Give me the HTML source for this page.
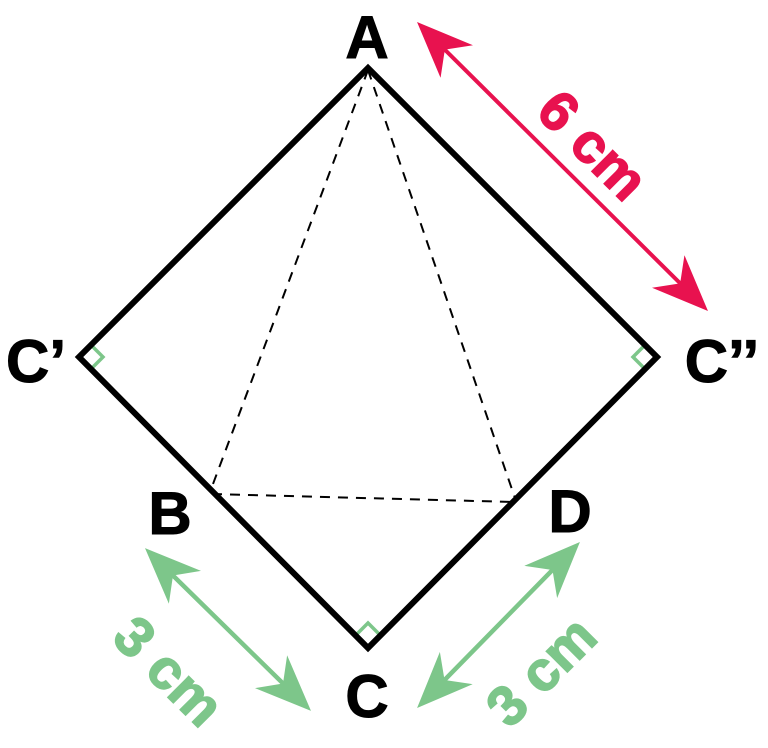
<!DOCTYPE html>
<html><head><style>body{margin:0;background:#fff}</style></head><body>
<svg width="768" height="743" viewBox="0 0 768 743" xmlns="http://www.w3.org/2000/svg" font-family="Liberation Sans, sans-serif" font-weight="bold">
<defs>
<marker id="r" viewBox="0 0 10 10" refX="9" refY="5" markerUnits="userSpaceOnUse" markerWidth="56" markerHeight="46" orient="auto-start-reverse" preserveAspectRatio="none"><path d="M0,0 L10,5 L0,10 L3,5z" fill="#e8124f"/></marker>
<marker id="g" viewBox="0 0 10 10" refX="9" refY="5" markerUnits="userSpaceOnUse" markerWidth="56" markerHeight="46" orient="auto-start-reverse" preserveAspectRatio="none"><path d="M0,0 L10,5 L0,10 L3,5z" fill="#7dc68a"/></marker>
</defs>
<g stroke="#7dc68a" stroke-width="3.5" fill="none">
<path d="M91,345 L103,357 L91,369"/>
<path d="M645,345 L633,357 L645,369"/>
<path d="M355,636 L368,623 L381,636"/>
</g>
<polygon points="368,68 657,357 368,648 79,357" fill="none" stroke="#000" stroke-width="6" stroke-linejoin="miter"/>
<g stroke="#000" stroke-width="2" stroke-dasharray="10,8" fill="none">
<line x1="368" y1="70" x2="210" y2="492"/>
<line x1="368" y1="70" x2="516" y2="501"/>
<line x1="212" y1="494" x2="514" y2="502"/>
</g>
<line x1="421" y1="26" x2="704" y2="307" stroke="#e8124f" stroke-width="4" marker-start="url(#r)" marker-end="url(#r)"/>
<line x1="149" y1="552" x2="307" y2="707" stroke="#7dc68a" stroke-width="4.5" marker-start="url(#g)" marker-end="url(#g)"/>
<line x1="576" y1="546" x2="421" y2="704" stroke="#7dc68a" stroke-width="4.5" marker-start="url(#g)" marker-end="url(#g)"/>
<g stroke-width="1.5">
<text x="592" y="164" font-size="56" fill="#e8124f" stroke="#e8124f" text-anchor="middle" transform="rotate(45 592 146)">6 cm</text>
<text x="168" y="690" font-size="56" fill="#7dc68a" stroke="#7dc68a" text-anchor="middle" transform="rotate(45 168 672)">3 cm</text>
<text x="542" y="690" font-size="56" fill="#7dc68a" stroke="#7dc68a" text-anchor="middle" transform="rotate(-45 542 672)">3 cm</text>
</g>
<g font-size="60" fill="#000" stroke="#000" stroke-width="1" text-anchor="middle">
<text x="367" y="58">A</text>
<text x="36" y="382">C’</text>
<text x="722" y="382">C’’</text>
<text x="170" y="534">B</text>
<text x="570" y="532">D</text>
<text x="367" y="717">C</text>
</g>
</svg>
</body></html>
